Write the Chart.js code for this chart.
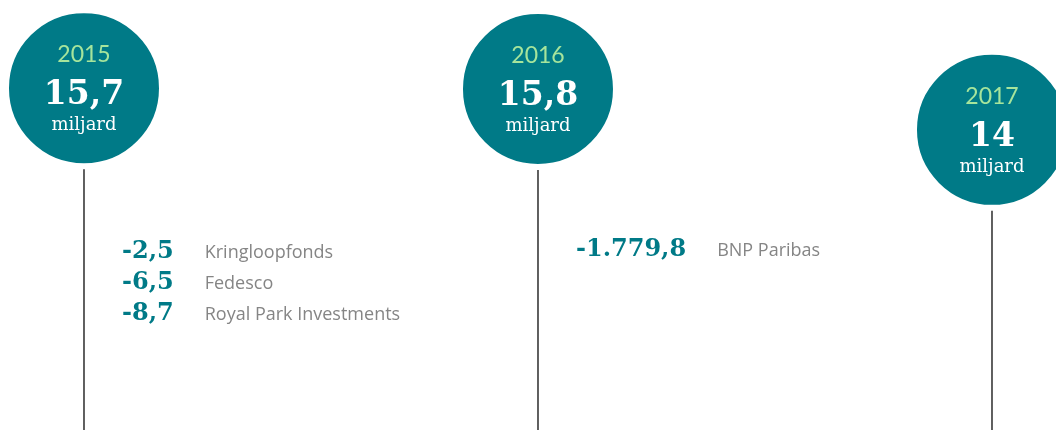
<!DOCTYPE html>
<html>
<head>
<meta charset="utf-8">
<script src="https://cdn.jsdelivr.net/npm/chart.js@4/dist/chart.umd.min.js"></script>
<style>
  html, body { margin: 0; padding: 0; background: #ffffff; }
  #wrap { width: 1056px; height: 430px; position: relative; }
</style>
</head>
<body>
<div id="wrap"><canvas id="c"></canvas></div>
<script>
// ---- data ----
const years = ['2015', '2016', '2017'];
const totals = [15.7, 15.8, 14];
const totalLabels = ['15,7', '15,8', '14'];
const unitLabel = 'miljard';
// vertical position of each year's circle on the timeline (0 = top, 100 = bottom)
const circleLevel = [20.5, 20.7, 30.2];

const itemYear = [0, 0, 0, 1];
const itemValues = [-2.5, -6.5, -8.7, -1779.8];
const itemValueLabels = ['-2,5', '-6,5', '-8,7', '-1.779,8'];
const itemNames = ['Kringloopfonds', 'Fedesco', 'Royal Park Investments', 'BNP Paribas'];
const itemLevel = [60.0, 67.2, 74.4, 59.5];

// ---- styles ----
const TEAL = '#007a87';
const YEAR_GREEN = '#a6e59c';
const LINE = '#4a4a4a';
const LABEL_GREY = '#858585';
const CIRCLE_R = 75;
const GAP = 6;

const bubbleData = years.map((y, i) => ({ x: i, y: circleLevel[i], r: CIRCLE_R + GAP / 2, v: totals[i] }));
const lineSets = years.map((y, i) => ({
  type: 'line',
  data: [{ x: i, y: circleLevel[i] }, { x: i, y: 100 }],
  borderColor: LINE,
  borderWidth: 1,
  pointRadius: 0,
  clip: false,
  order: 2
}));
const itemData = itemValues.map((v, k) => ({ x: itemYear[k], y: itemLevel[k], v: v }));

const textPlugin = {
  id: 'texts',
  afterDatasetsDraw(chart) {
    const ctx = chart.ctx;
    const meta = chart.getDatasetMeta(0);
    ctx.save();
    meta.data.forEach((el, i) => {
      const cx = el.x, cy = el.y;
      ctx.textAlign = 'center';
      ctx.textBaseline = 'alphabetic';
      ctx.fillStyle = YEAR_GREEN;
      ctx.font = '23px Lato, "Open Sans", sans-serif';
      ctx.fillText(years[i], cx, cy - 26);
      ctx.fillStyle = '#ffffff';
      ctx.font = 'bold 33px "DejaVu Serif", serif';
      ctx.fillText(totalLabels[i], cx, cy + 16);
      ctx.font = '18px "DejaVu Serif", serif';
      ctx.fillText(unitLabel, cx, cy + 42);
    });
    // items
    const itemMeta = chart.getDatasetMeta(chart.data.datasets.length - 1);
    ctx.font = 'bold 24px "DejaVu Serif", serif';
    const groupMax = {};
    itemValueLabels.forEach((t, k) => {
      const w = ctx.measureText(t).width;
      groupMax[itemYear[k]] = Math.max(groupMax[itemYear[k]] || 0, w);
    });
    itemMeta.data.forEach((el, k) => {
      const left = el.x + 38;
      ctx.textAlign = 'left';
      ctx.textBaseline = 'alphabetic';
      ctx.fillStyle = TEAL;
      ctx.font = 'bold 24px "DejaVu Serif", serif';
      ctx.fillText(itemValueLabels[k], left, el.y);
      ctx.fillStyle = LABEL_GREY;
      ctx.font = '18px "Open Sans", sans-serif';
      ctx.fillText(itemNames[k], left + groupMax[itemYear[k]] + 31, el.y);
    });
    ctx.restore();
  }
};

new Chart(document.getElementById('c'), {
  type: 'bubble',
  data: {
    datasets: [
      {
        type: 'bubble',
        data: bubbleData,
        backgroundColor: TEAL,
        borderColor: '#ffffff',
        borderWidth: GAP,
        hoverBorderWidth: GAP,
        clip: false,
        order: 1
      },
      ...lineSets,
      {
        type: 'scatter',
        data: itemData,
        pointRadius: 0,
        showLine: false,
        clip: false,
        order: 0
      }
    ]
  },
  options: {
    responsive: true,
    maintainAspectRatio: false,
    animation: false,
    layout: { padding: 0, autoPadding: false },
    scales: {
      x: { type: 'linear', display: false, min: -0.185, max: 2.141 },
      y: { type: 'linear', display: false, min: 0, max: 100, reverse: true }
    },
    plugins: {
      legend: { display: false },
      tooltip: { enabled: false }
    },
    events: []
  },
  plugins: [textPlugin]
});
</script>
</body>
</html>
